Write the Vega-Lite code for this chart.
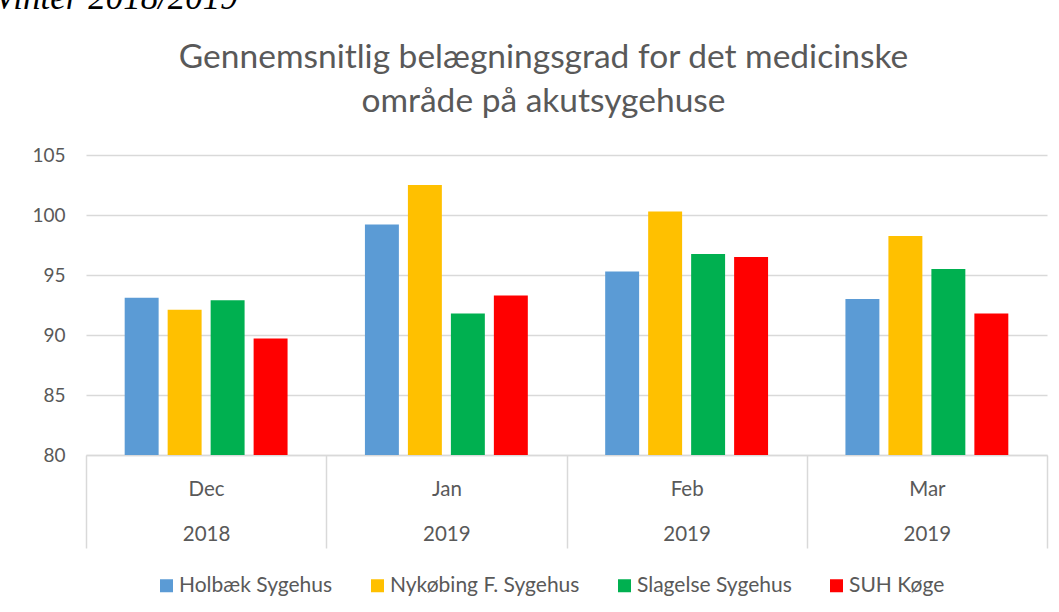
{
  "$schema": "https://vega.github.io/schema/vega-lite/v6.json",
  "autosize": "none",
  "width": 961,
  "height": 300,
  "padding": {"left": 86, "top": 155, "right": 12, "bottom": 157},
  "background": "white",
  "data": {
    "values": [
      {"period": "Dec 2018", "hospital": "Holbæk Sygehus", "value": 93.1},
      {"period": "Dec 2018", "hospital": "Nykøbing F. Sygehus", "value": 92.1},
      {"period": "Dec 2018", "hospital": "Slagelse Sygehus", "value": 92.9},
      {"period": "Dec 2018", "hospital": "SUH Køge", "value": 89.7},
      {"period": "Jan 2019", "hospital": "Holbæk Sygehus", "value": 99.2},
      {"period": "Jan 2019", "hospital": "Nykøbing F. Sygehus", "value": 102.5},
      {"period": "Jan 2019", "hospital": "Slagelse Sygehus", "value": 91.8},
      {"period": "Jan 2019", "hospital": "SUH Køge", "value": 93.3},
      {"period": "Feb 2019", "hospital": "Holbæk Sygehus", "value": 95.3},
      {"period": "Feb 2019", "hospital": "Nykøbing F. Sygehus", "value": 100.3},
      {"period": "Feb 2019", "hospital": "Slagelse Sygehus", "value": 96.75},
      {"period": "Feb 2019", "hospital": "SUH Køge", "value": 96.5},
      {"period": "Mar 2019", "hospital": "Holbæk Sygehus", "value": 93.0},
      {"period": "Mar 2019", "hospital": "Nykøbing F. Sygehus", "value": 98.25},
      {"period": "Mar 2019", "hospital": "Slagelse Sygehus", "value": 95.5},
      {"period": "Mar 2019", "hospital": "SUH Køge", "value": 91.8}
    ]
  },
  "mark": {"type": "bar", "clip": true},
  "encoding": {
    "x": {
      "field": "period",
      "type": "nominal",
      "sort": ["Dec 2018", "Jan 2019", "Feb 2019", "Mar 2019"],
      "scale": {"paddingInner": 0, "paddingOuter": 0},
      "axis": {
        "title": "Vinter 2018/2019",
        "titleFont": "Liberation Serif",
        "titleFontStyle": "italic",
        "titleFontWeight": "normal",
        "titleFontSize": 35,
        "titleColor": "#000000",
        "titleAlign": "left",
        "titleBaseline": "alphabetic",
        "titleAngle": 0,
        "titleX": -92,
        "titleY": -447,
        "labelAngle": 0,
        "labelExpr": "split(datum.label, ' ')",
        "labelFont": "Lato",
        "labelFontSize": 20.5,
        "labelColor": "#595959",
        "labelLineHeight": 45,
        "labelBaseline": "alphabetic",
        "labelPadding": -53,
        "labelOverlap": false,
        "tickBand": "extent",
        "tickSize": 93,
        "tickColor": "#d9d9d9",
        "tickWidth": 1.5,
        "domainColor": "#d9d9d9",
        "domainWidth": 1.5
      }
    },
    "xOffset": {
      "field": "hospital",
      "type": "nominal",
      "sort": ["Holbæk Sygehus", "Nykøbing F. Sygehus", "Slagelse Sygehus", "SUH Køge"],
      "scale": {"paddingInner": 0.21, "paddingOuter": 0.9}
    },
    "y": {
      "field": "value",
      "type": "quantitative",
      "scale": {"domain": [80, 105], "nice": false, "zero": false},
      "axis": {
        "values": [80, 85, 90, 95, 100, 105],
        "labelOverlap": false,
        "domain": false,
        "ticks": false,
        "labelFont": "Lato",
        "labelFontSize": 19,
        "labelColor": "#595959",
        "labelPadding": 21,
        "gridColor": "#d9d9d9",
        "gridWidth": 1.5,
        "title": ["Gennemsnitlig belægningsgrad for det medicinske", "område på akutsygehuse"],
        "titleAngle": 0,
        "titleFont": "Lato",
        "titleFontSize": 33.5,
        "titleFontWeight": "normal",
        "titleColor": "#595959",
        "titleAlign": "center",
        "titleBaseline": "alphabetic",
        "titleLineHeight": 44,
        "titleX": 457,
        "titleY": -88
      }
    },
    "color": {
      "field": "hospital",
      "type": "nominal",
      "sort": ["Holbæk Sygehus", "Nykøbing F. Sygehus", "Slagelse Sygehus", "SUH Køge"],
      "scale": {
        "domain": ["Holbæk Sygehus", "Nykøbing F. Sygehus", "Slagelse Sygehus", "SUH Køge"],
        "range": ["#5B9BD5", "#FFC000", "#00B050", "#FF0000"]
      },
      "legend": {
        "title": null,
        "orient": "none",
        "direction": "horizontal",
        "legendX": 70,
        "legendY": 420,
        "symbolType": "square",
        "symbolSize": 169,
        "symbolStrokeWidth": 0,
        "labelFont": "Lato",
        "labelFontSize": 21,
        "labelColor": "#595959",
        "labelOffset": 2,
        "columnPadding": 34,
        "labelLimit": 400
      }
    }
  },
  "config": {"view": {"stroke": null}}
}
